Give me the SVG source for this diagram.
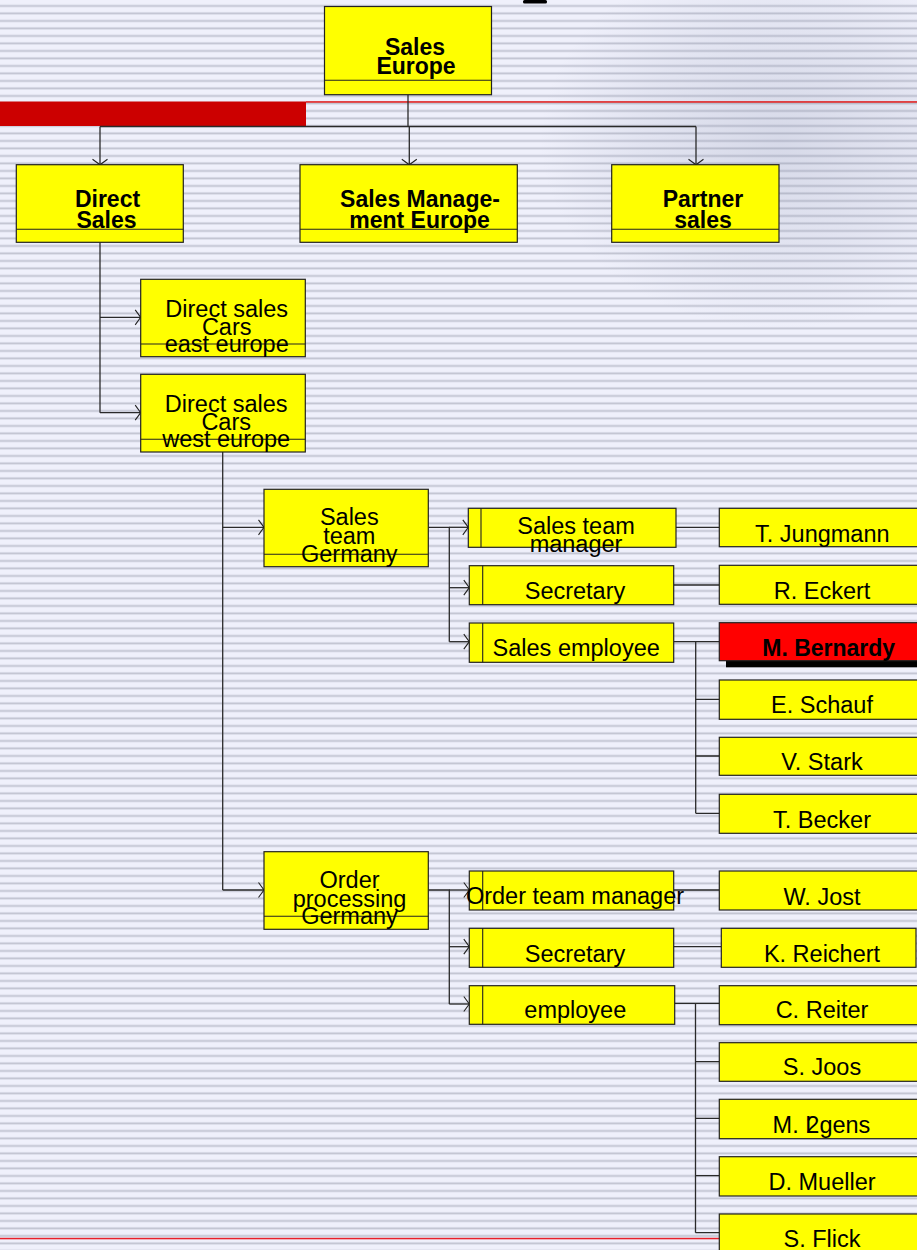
<svg xmlns="http://www.w3.org/2000/svg" width="917" height="1250" viewBox="0 0 917 1250">
  <defs>
    <pattern id="stripes" patternUnits="userSpaceOnUse" width="20" height="7.5">
      <rect x="0" y="0" width="20" height="7.5" fill="#eff0fb"/>
      <rect x="0" y="4.6" width="20" height="1" fill="#d3d5e2"/>
      <rect x="0" y="5.6" width="20" height="1.3" fill="#c2c4d2"/>
    </pattern>
    <radialGradient id="haze" cx="0.5" cy="0.5" r="0.5">
      <stop offset="0" stop-color="#8a92ad" stop-opacity="0.24"/>
      <stop offset="0.6" stop-color="#8a92ad" stop-opacity="0.12"/>
      <stop offset="1" stop-color="#8a92ad" stop-opacity="0"/>
    </radialGradient>
    <marker id="arrow" markerUnits="userSpaceOnUse" markerWidth="16" markerHeight="18" viewBox="-8 -9 16 18" refX="0" refY="0" orient="auto">
      <path d="M-5.5,-7.5 L0,0 L-5.5,7.5" fill="none" stroke="#222" stroke-width="1.1"/>
    </marker>
    <style>
      .box { fill: #ffff00; stroke: #222; stroke-width: 1.2; }
      .sep { stroke: #222; stroke-width: 1.1; fill: none; }
      .conn { stroke: #2a2a2a; stroke-width: 1.3; fill: none; }
      .arr { marker-end: url(#arrow); }
      text { font-family: "Liberation Sans", Arial, sans-serif; fill: #000; text-anchor: middle; }
      .b { font-weight: bold; font-size: 23px; }
      .r { font-size: 23.5px; }
    </style>
  </defs>

  <!-- backdrop -->
  <rect x="0" y="0" width="917" height="1250" fill="url(#stripes)"/>
  <ellipse cx="780" cy="140" rx="240" ry="190" fill="url(#haze)"/>
  <rect x="523" y="0" width="24" height="3.5" rx="1.5" fill="#000"/>
  <rect x="0" y="101.5" width="306" height="24.5" fill="#cc0000"/>
  <rect x="306" y="101.2" width="611" height="1.5" fill="#e01818"/>
  <rect x="0" y="1237.8" width="722" height="1.5" fill="#e8202a"/>

  <!-- connectors -->
  <g id="connectors">
    <path class="conn" d="M408,94.7 V126.5 M100,126.5 H696"/>
    <path class="conn arr" d="M100,126.5 V164.7"/>
    <path class="conn arr" d="M409.3,126.5 V164.7"/>
    <path class="conn arr" d="M696,126.5 V164.7"/>

    <path class="conn" d="M100,242.3 V412.7"/>
    <path class="conn arr" d="M100,317.3 H140.7"/>
    <path class="conn arr" d="M100,412.7 H140.7"/>

    <path class="conn" d="M222.7,452 V890"/>
    <path class="conn arr" d="M222.7,527.3 H264"/>
    <path class="conn arr" d="M222.7,890 H264"/>

    <path class="conn" d="M428.3,527.3 H449.3 V641.7"/>
    <path class="conn arr" d="M449.3,527.3 H468.3"/>
    <path class="conn arr" d="M449.3,587.7 H469.3"/>
    <path class="conn arr" d="M449.3,641.7 H469.3"/>

    <path class="conn" d="M676,527.3 H719.3"/>
    <path class="conn" d="M673.7,585 H719.3"/>
    <path class="conn" d="M673.7,641.7 H719.3 M695.7,641.7 V813.3"/>
    <path class="conn" d="M695.7,699.3 H719.3 M695.7,756 H719.3 M695.7,813.3 H719.3"/>

    <path class="conn" d="M428.3,890 H449.3 V1004"/>
    <path class="conn arr" d="M449.3,890 H469.3"/>
    <path class="conn arr" d="M449.3,946.7 H469.3"/>
    <path class="conn arr" d="M449.3,1004 H469.3"/>

    <path class="conn" d="M673.7,890 H719.3"/>
    <path class="conn" d="M673.7,946.7 H721.3"/>
    <path class="conn" d="M674.7,1003.3 H719.3 M695.5,1003.3 V1232.7"/>
    <path class="conn" d="M695.5,1061.7 H719.3 M695.5,1118.3 H719.3 M695.5,1175.7 H719.3 M695.5,1232.7 H719.3"/>
  </g>

  <!-- top level -->
  <g id="sales-europe">
    <rect class="box" x="324.5" y="6.5" width="167" height="88.2"/>
    <line class="sep" x1="324.5" y1="80.3" x2="491.5" y2="80.3"/>
    <text class="b" x="415" y="55">Sales</text>
    <text class="b" x="416" y="74">Europe</text>
  </g>

  <!-- divisions -->
  <g id="direct-sales">
    <rect class="box" x="16.3" y="164.7" width="167" height="77.6"/>
    <line class="sep" x1="16.3" y1="229.3" x2="183.3" y2="229.3"/>
    <text class="b" x="107.5" y="207">Direct</text>
    <text class="b" x="106.5" y="227.7">Sales</text>
  </g>
  <g id="sales-management-europe">
    <rect class="box" x="300" y="164.7" width="217.3" height="77.6"/>
    <line class="sep" x1="300" y1="229.3" x2="517.3" y2="229.3"/>
    <text class="b" x="420" y="207">Sales Manage-</text>
    <text class="b" x="419.5" y="227.7">ment Europe</text>
  </g>
  <g id="partner-sales">
    <rect class="box" x="611.7" y="164.7" width="167.3" height="77.6"/>
    <line class="sep" x1="611.7" y1="229.3" x2="779" y2="229.3"/>
    <text class="b" x="703" y="207">Partner</text>
    <text class="b" x="703" y="227.7">sales</text>
  </g>

  <!-- regional units -->
  <g id="direct-sales-east">
    <rect class="box" x="140.7" y="279.3" width="164.6" height="77.4"/>
    <line class="sep" x1="140.7" y1="344" x2="305.3" y2="344"/>
    <text class="r" x="226.7" y="316.7">Direct sales</text>
    <text class="r" x="226.7" y="335">Cars</text>
    <text class="r" x="226.7" y="351.7">east europe</text>
  </g>
  <g id="direct-sales-west">
    <rect class="box" x="140.7" y="374.3" width="164.6" height="77.7"/>
    <line class="sep" x1="140.7" y1="439.3" x2="305.3" y2="439.3"/>
    <text class="r" x="226.2" y="411.7">Direct sales</text>
    <text class="r" x="226.2" y="430">Cars</text>
    <text class="r" x="226.2" y="446.7">west europe</text>
  </g>

  <!-- teams -->
  <g id="sales-team-germany">
    <rect class="box" x="264" y="489.3" width="164.3" height="77.4"/>
    <line class="sep" x1="264" y1="554.3" x2="428.3" y2="554.3"/>
    <text class="r" x="349.3" y="525">Sales</text>
    <text class="r" x="349.3" y="544">team</text>
    <text class="r" x="349.3" y="561.7">Germany</text>
  </g>
  <g id="order-processing-germany">
    <rect class="box" x="264" y="851.7" width="164.3" height="77.6"/>
    <line class="sep" x1="264" y1="916.3" x2="428.3" y2="916.3"/>
    <text class="r" x="349.5" y="888.3">Order</text>
    <text class="r" x="349.5" y="906.7">processing</text>
    <text class="r" x="349.5" y="924">Germany</text>
  </g>

  <!-- roles, sales team -->
  <g id="role-sales-team-manager">
    <rect class="box" x="468.3" y="508.3" width="207.7" height="39"/>
    <line class="sep" x1="481" y1="508.3" x2="481" y2="547.3"/>
    <text class="r" x="576" y="534.3">Sales team</text>
    <text class="r" x="576" y="551.7">manager</text>
  </g>
  <g id="role-secretary-sales">
    <rect class="box" x="469.3" y="565.7" width="204.4" height="39"/>
    <line class="sep" x1="482.7" y1="565.7" x2="482.7" y2="604.7"/>
    <text class="r" x="575" y="599.3">Secretary</text>
  </g>
  <g id="role-sales-employee">
    <rect class="box" x="469.3" y="623" width="204.4" height="39.3"/>
    <line class="sep" x1="482.7" y1="623" x2="482.7" y2="662.3"/>
    <text class="r" x="576.2" y="656">Sales employee</text>
  </g>

  <!-- roles, order processing -->
  <g id="role-order-team-manager">
    <rect class="box" x="469.3" y="871" width="204.4" height="39"/>
    <line class="sep" x1="482.7" y1="871" x2="482.7" y2="910"/>
    <text class="r" x="575" y="904">Order team manager</text>
  </g>
  <g id="role-secretary-order">
    <rect class="box" x="469.3" y="928.3" width="204.4" height="39"/>
    <line class="sep" x1="482.7" y1="928.3" x2="482.7" y2="967.3"/>
    <text class="r" x="575" y="961.7">Secretary</text>
  </g>
  <g id="role-employee">
    <rect class="box" x="469.3" y="985.7" width="205.4" height="38.6"/>
    <line class="sep" x1="482.7" y1="985.7" x2="482.7" y2="1024.3"/>
    <text class="r" x="575.3" y="1018.3">employee</text>
  </g>

  <!-- people, sales team -->
  <g id="person-jungmann">
    <rect class="box" x="719.3" y="508.3" width="215" height="38.4"/>
    <text class="r" x="822.3" y="541.7">T. Jungmann</text>
  </g>
  <g id="person-eckert">
    <rect class="box" x="719.3" y="565.3" width="215" height="39"/>
    <text class="r" x="822" y="599.3">R. Eckert</text>
  </g>
  <g id="person-bernardy">
    <rect x="726" y="629.3" width="215" height="38" fill="#000"/>
    <rect x="719.3" y="622.7" width="215" height="38" fill="#ff0000" stroke="#222" stroke-width="1.2"/>
    <text class="b" x="828.7" y="656">M. Bernardy</text>
  </g>
  <g id="person-schauf">
    <rect class="box" x="719.3" y="680" width="215" height="39.3"/>
    <text class="r" x="822" y="713.3">E. Schauf</text>
  </g>
  <g id="person-stark">
    <rect class="box" x="719.3" y="737.3" width="215" height="38"/>
    <text class="r" x="822" y="770">V. Stark</text>
  </g>
  <g id="person-becker">
    <rect class="box" x="719.3" y="794.3" width="215" height="39"/>
    <text class="r" x="822" y="828.3">T. Becker</text>
  </g>

  <!-- people, order processing -->
  <g id="person-jost">
    <rect class="box" x="719.3" y="871" width="215" height="39"/>
    <text class="r" x="822" y="905">W. Jost</text>
  </g>
  <g id="person-reichert">
    <rect class="box" x="721.3" y="928.3" width="194.7" height="39"/>
    <text class="r" x="822" y="961.7">K. Reichert</text>
  </g>
  <g id="person-reiter">
    <rect class="box" x="719.3" y="985.7" width="215" height="39"/>
    <text class="r" x="822" y="1018.3">C. Reiter</text>
  </g>
  <g id="person-joos">
    <rect class="box" x="719.3" y="1042.7" width="215" height="38.6"/>
    <text class="r" x="822" y="1075">S. Joos</text>
  </g>
  <g id="person-juergens">
    <rect class="box" x="719.3" y="1099.3" width="215" height="39.4"/>
    <text class="r" x="821.5" y="1133.3">M. L<tspan dx="-12">2</tspan>gens</text>
  </g>
  <g id="person-mueller">
    <rect class="box" x="719.3" y="1156.7" width="215" height="39.3"/>
    <text class="r" x="822" y="1190">D. Mueller</text>
  </g>
  <g id="person-flick">
    <rect class="box" x="719.3" y="1214" width="215" height="50"/>
    <text class="r" x="822" y="1246.7">S. Flick</text>
  </g>
</svg>
